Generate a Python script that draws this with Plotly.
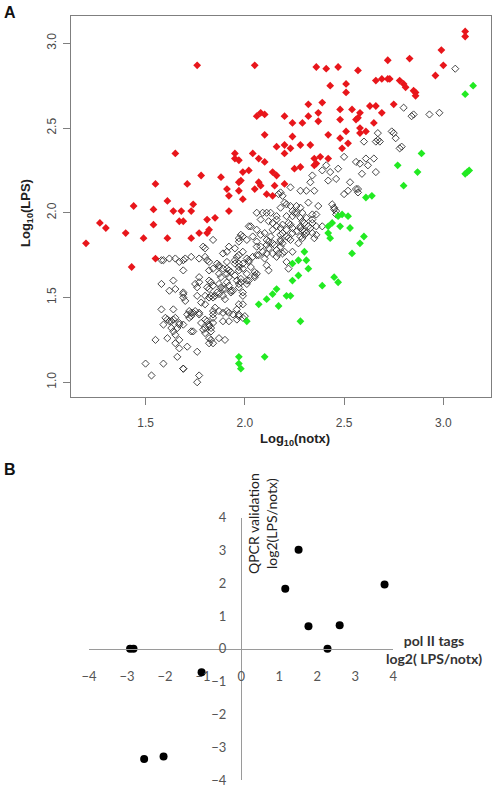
import plotly.graph_objects as go

# ---------------- Panel A data (log10 tag counts) ----------------
notx_up = [1.20, 1.27, 1.30, 1.40, 1.43, 1.44, 1.49, 1.54, 1.54, 1.55, 1.55, 1.61, 1.61, 1.64, 1.65,
           1.68, 1.67, 1.69, 1.71, 1.73, 1.73, 1.74, 1.76, 1.77, 1.78, 1.81, 1.81, 1.82, 1.85, 1.88,
           1.91, 1.92, 1.92, 1.95, 1.95, 1.97, 1.97, 1.97, 1.98, 1.99, 1.99, 2.02, 2.04, 2.05, 2.05,
           2.07, 2.06, 2.07, 2.08, 2.08, 2.10, 2.10, 2.10,
           2.11, 2.14, 2.14, 2.16, 2.15, 2.20, 2.16, 2.20, 2.20, 2.20, 2.23, 2.24, 2.24, 2.25, 2.28,
           2.28, 2.29, 2.32, 2.32, 2.33, 2.35, 2.35, 2.36, 2.38, 2.36, 2.37, 2.37, 2.39, 2.41, 2.42,
           2.42, 2.43, 2.47, 2.48, 2.48, 2.48, 2.49, 2.51, 2.51, 2.51, 2.52, 2.54, 2.56, 2.57, 2.57,
           2.58, 2.58, 2.58, 2.61, 2.63, 2.65, 2.66, 2.66, 2.69, 2.69, 2.72, 2.72, 2.73, 2.75, 2.78,
           2.80, 2.81, 2.83, 2.85, 2.86, 2.86, 2.96, 2.99, 3.00, 3.11, 3.11]
lps_up = [1.82, 1.94, 1.91, 1.88, 1.68, 2.04, 1.85, 2.02, 1.93, 2.17, 1.73, 2.07, 1.85, 2.01, 2.35,
          2.01, 1.95, 1.95, 2.17, 2.01, 1.85, 2.05, 2.87, 1.88, 2.22, 1.96, 1.88, 1.90, 1.97, 2.21,
          2.14, 2.01, 2.10, 2.35, 2.32, 2.18, 2.13, 2.31, 2.19, 2.08, 2.24, 2.25, 2.35, 2.14, 2.87,
          2.18, 2.57, 2.32, 2.59, 2.16, 2.58, 2.46, 2.30,
          2.11, 2.10, 2.24, 2.22, 2.16, 2.17, 2.39, 2.57, 2.40, 2.35, 2.38, 2.53, 2.45, 2.26, 2.27,
          2.40, 2.53, 2.57, 2.64, 2.40, 2.32, 2.28, 2.29, 2.33, 2.86, 2.59, 2.54, 2.65, 2.85, 2.46,
          2.32, 2.75, 2.86, 2.61, 2.55, 2.44, 2.38, 2.71, 2.76, 2.48, 2.41, 2.61, 2.55, 2.56, 2.84,
          2.59, 2.50, 2.47, 2.48, 2.63, 2.53, 2.63, 2.78, 2.79, 2.59, 2.90, 2.79, 2.79, 2.64, 2.78,
          2.76, 2.74, 2.91, 2.72, 2.71, 2.69, 2.81, 2.96, 2.87, 3.07, 3.04]

notx_down = [1.97, 1.97, 1.98, 2.01, 2.07, 2.10, 2.11, 2.14, 2.16, 2.17, 2.21, 2.23, 2.28, 2.24,
             2.24, 2.27, 2.27, 2.30, 2.31, 2.32, 2.39, 2.42, 2.42, 2.43, 2.44, 2.45, 2.47, 2.47,
             2.48, 2.49, 2.52, 2.53, 2.54, 2.58, 2.60, 2.61, 2.64, 2.77, 2.80, 2.87, 2.89, 3.11,
             3.11, 3.12, 3.13, 3.15]
lps_down = [1.15, 1.11, 1.08, 1.36, 1.46, 1.15, 1.49, 1.52, 1.55, 1.45, 1.51, 1.51, 1.36, 1.70,
            1.60, 1.63, 1.72, 1.77, 1.72, 1.67, 1.57, 1.92, 1.88, 1.85, 1.94, 1.62, 1.98, 1.59,
            1.92, 1.99, 1.98, 1.91, 1.76, 1.82, 1.86, 2.09, 2.10, 2.28, 2.16, 2.24, 2.35, 2.70,
            2.23, 2.24, 2.25, 2.75]

notx_ns = [3.06, 2.80, 2.84, 2.85, 2.93, 2.98, 2.74, 2.75, 2.76, 2.67, 2.60, 2.66, 2.67, 2.68, 2.78,
           2.79, 2.50, 2.56, 2.58, 2.61, 2.62, 2.65, 2.59, 2.66, 2.41, 2.47, 2.43, 2.39, 2.34, 2.33,
           2.31, 2.28, 2.35, 2.23, 2.42, 2.46, 2.53, 2.56, 2.57, 2.52, 2.50, 2.57, 2.17, 2.18, 2.32,
           2.37, 2.36, 2.34, 2.44, 2.45, 2.45, 2.46, 2.31, 2.34, 2.28, 2.29, 2.30, 2.36, 2.39, 2.28,
           2.29, 2.30, 2.32, 2.33, 2.34, 2.36, 2.19, 2.20, 2.21, 2.26, 2.24, 2.25, 2.16, 2.13, 2.09,
           2.06, 2.03, 2.08, 2.12, 2.16, 2.34, 2.28, 2.22, 2.23, 2.24, 2.21, 2.18, 2.19, 2.14, 2.16,
           2.02, 1.98, 1.99, 2.04, 2.06, 2.08, 2.10, 2.11, 2.13, 2.14, 2.15, 2.12, 2.11, 2.18, 2.18,
           2.19, 2.21, 2.22, 2.23, 2.27, 2.28, 2.29, 2.26, 2.24, 2.18, 2.19, 2.09, 2.11, 2.06, 2.07,
           2.16, 2.19, 2.24, 2.01, 2.02, 2.02, 2.03, 1.99, 1.97, 1.97, 2.05, 2.06, 2.11, 2.21, 2.22,
           2.12, 2.01, 2.02, 1.98, 1.97, 2.05, 2.05, 1.99, 1.99, 1.97, 1.99, 1.97, 1.99, 2.00, 2.24,
           2.29, 2.31, 2.35,
           1.58, 1.59, 1.62, 1.65, 1.67, 1.69, 1.70, 1.73, 1.77, 1.80, 1.81, 1.82, 1.86, 1.87, 1.87,
           1.84, 1.82, 1.89, 1.91, 1.91, 1.95, 1.95, 1.96, 1.97, 1.99, 1.69, 1.88, 1.92, 1.91, 1.95,
           1.96, 1.97, 1.98, 2.01, 2.01, 1.87, 1.88, 1.89, 1.90, 1.91, 1.92, 1.93, 1.82, 1.83, 1.84,
           1.64, 1.65, 1.58, 1.69, 1.69, 1.69, 1.70, 1.76, 1.77, 1.78, 1.80, 1.82, 1.83, 1.84, 1.85,
           1.86, 1.87, 1.89, 1.90, 1.93, 1.94, 1.96, 1.97, 1.94, 1.58, 1.64, 1.72, 1.73, 1.74, 1.71,
           1.72, 1.75, 1.77, 1.77, 1.69, 1.60, 1.61, 1.62, 1.63, 1.64, 1.59, 1.63, 1.64, 1.65, 1.67,
           1.61, 1.55, 1.67, 1.74, 1.80, 1.81, 1.82, 1.82, 1.84, 1.83, 1.84, 1.84, 1.82, 1.83, 1.84,
           1.87, 1.90, 1.71, 1.76, 1.66, 1.50, 1.59, 1.69, 1.69, 1.53, 1.77, 1.76,
           1.79, 1.80, 1.84, 1.89, 1.91, 1.92, 1.95, 1.99, 2.04, 2.10, 1.87, 1.92, 1.93, 1.97, 1.89,
           1.92, 1.91, 1.92, 1.96, 1.85, 1.87, 1.89, 1.84, 1.80, 1.76, 1.75, 1.77, 1.81, 1.82, 1.62,
           1.73, 1.65, 1.67, 1.66, 1.65, 1.67, 1.73, 1.80, 1.80, 1.82, 1.83, 1.79, 1.78, 2.11, 2.18,
           2.23, 2.26, 2.28, 2.21, 2.14, 2.06, 1.97, 2.01, 1.97, 2.06, 2.08, 2.12, 2.30, 2.14, 2.17,
           2.20, 2.18, 2.16, 2.46]
lps_ns = [2.85, 2.62, 2.57, 2.58, 2.58, 2.59, 2.48, 2.47, 2.44, 2.47, 2.42, 2.42, 2.43, 2.42, 2.38,
          2.39, 2.33, 2.30, 2.29, 2.32, 2.28, 2.32, 2.23, 2.24, 2.28, 2.26, 2.24, 2.25, 2.22, 2.18,
          2.13, 2.13, 2.13, 2.15, 2.19, 2.20, 2.18, 2.14, 2.12, 2.13, 2.11, 2.14, 2.11, 2.12, 2.06,
          2.04, 1.99, 1.99, 2.05, 2.03, 2.02, 2.01, 1.97, 1.96, 1.97, 1.95, 1.94, 1.92, 1.92, 1.91,
          1.90, 1.89, 1.92, 1.91, 1.88, 1.87, 2.10, 2.06, 2.05, 2.04, 2.01, 2.00, 1.98, 2.00, 2.00,
          2.00, 1.92, 1.96, 1.95, 1.96, 1.94, 1.92, 1.94, 1.93, 1.91, 1.90, 1.91, 1.93, 1.94, 1.92,
          1.92, 1.87, 1.86, 1.86, 1.83, 1.87, 1.88, 1.84, 1.86, 1.82, 1.81, 1.79, 1.81, 1.84, 1.83,
          1.82, 1.86, 1.85, 1.84, 1.82, 1.86, 1.85, 1.89, 1.88, 1.87, 1.88, 1.77, 1.76, 1.75, 1.75,
          1.74, 1.76, 1.77, 1.73, 1.72, 1.71, 1.68, 1.67, 1.70, 1.66, 1.65, 1.64, 1.69, 1.71, 1.67,
          1.66, 1.60, 1.60, 1.59, 1.56, 1.63, 1.62, 1.53, 1.51, 1.46, 1.46, 1.39, 1.38, 1.39, 1.98,
          2.00, 1.88, 1.85,
          1.72, 1.72, 1.73, 1.73, 1.71, 1.72, 1.73, 1.74, 1.73, 1.74, 1.72, 1.71, 1.70, 1.69, 1.68,
          1.67, 1.66, 1.67, 1.71, 1.67, 1.70, 1.72, 1.74, 1.75, 1.70, 1.66, 1.62, 1.62, 1.64, 1.63,
          1.60, 1.58, 1.61, 1.64, 1.58, 1.58, 1.56, 1.55, 1.55, 1.59, 1.57, 1.54, 1.60, 1.59, 1.57,
          1.60, 1.55, 1.58, 1.53, 1.52, 1.50, 1.48, 1.56, 1.59, 1.47, 1.51, 1.50, 1.51, 1.50, 1.51,
          1.53, 1.52, 1.51, 1.49, 1.53, 1.54, 1.43, 1.40, 1.40, 1.43, 1.43, 1.42, 1.41, 1.41, 1.40,
          1.38, 1.42, 1.40, 1.41, 1.34, 1.38, 1.37, 1.36, 1.36, 1.37, 1.34, 1.32, 1.30, 1.28, 1.25,
          1.26, 1.25, 1.35, 1.30, 1.37, 1.36, 1.34, 1.33, 1.35, 1.32, 1.40, 1.38, 1.26, 1.25, 1.23,
          1.26, 1.25, 1.21, 1.18, 1.15, 1.11, 1.11, 1.08, 1.08, 1.04, 1.04, 1.00,
          1.80, 1.79, 1.84, 1.76, 1.77, 1.80, 1.79, 1.77, 1.74, 1.73, 1.64, 1.66, 1.65, 1.68, 1.41,
          1.36, 1.42, 1.41, 1.37, 1.44, 1.42, 1.36, 1.42, 1.46, 1.51, 1.58, 1.62, 1.56, 1.55, 1.54,
          1.39, 1.38, 1.34, 1.32, 1.23, 1.20, 1.30, 1.32, 1.29, 1.23, 1.30, 1.31, 1.35, 2.00, 2.03,
          2.04, 2.00, 2.03, 1.98, 1.90, 1.90, 1.85, 1.84, 1.83, 1.80, 1.80, 1.83, 1.87, 1.76, 1.76,
          1.77, 1.80, 1.78, 1.99]

x_ticks_a = [1.5, 2.0, 2.5, 3.0]
x_ticktext_a = ["1.5", "2.0", "2.5", "3.0"]
y_ticks_a = [1.0, 1.5, 2.0, 2.5, 3.0]
y_ticktext_a = ["1.0", "1.5", "2.0", "2.5", "3.0"]

# ---------------- Panel B data (log2 LPS/notx) ----------------
polii_log2 = [-2.92, -2.83, -1.04, -2.55, -2.04, 1.16, 1.51, 1.77, 2.27, 2.59, 3.77]
qpcr_log2 = [0.0, 0.0, -0.71, -3.36, -3.28, 1.83, 3.02, 0.69, 0.0, 0.72, 1.96]
ticks_b = [-4, -3, -2, -1, 0, 1, 2, 3, 4]

W, H = 496, 789
ARIAL = "Liberation Sans, Arial, sans-serif"
CALIBRI = "Lato, Open Sans, sans-serif"

fig = go.Figure()
fig.add_trace(go.Scatter(x=notx_ns, y=lps_ns, mode="markers", xaxis="x", yaxis="y",
                         marker=dict(symbol="diamond-open", size=5.5, color="#262626",
                                     line=dict(width=0.85, color="#262626")),
                         showlegend=False, hoverinfo="x+y"))
fig.add_trace(go.Scatter(x=notx_up, y=lps_up, mode="markers", xaxis="x", yaxis="y",
                         marker=dict(symbol="diamond", size=6, color="#e8161b", line=dict(width=0)),
                         showlegend=False))
fig.add_trace(go.Scatter(x=notx_down, y=lps_down, mode="markers", xaxis="x", yaxis="y",
                         marker=dict(symbol="diamond", size=6, color="#22ea22", line=dict(width=0)),
                         showlegend=False))
fig.add_trace(go.Scatter(x=polii_log2, y=qpcr_log2, mode="markers", xaxis="x2", yaxis="y2",
                         marker=dict(symbol="circle", size=8, color="#000000"),
                         showlegend=False))

axA = dict(showline=True, mirror=True, linecolor="#7f7f7f", linewidth=1.3, automargin=False,
           ticks="outside", ticklen=7, tickwidth=1.2, tickcolor="#7f7f7f",
           showgrid=False, zeroline=False, tickfont=dict(family=ARIAL, size=12, color="#4a4a4a"))
axB = dict(showline=True, linecolor="#9a9a9a", linewidth=1, ticks="", showgrid=False,
           automargin=False, zeroline=False, tickmode="array", tickvals=ticks_b,
           tickfont=dict(family=CALIBRI, size=13, color="#555555"))


def note(text, px, py, size, family, color="#222222", angle=0):
    return dict(text=text, x=px / W, y=1 - py / H, xref="paper", yref="paper",
                xanchor="center", yanchor="middle", showarrow=False, align="center",
                textangle=angle, font=dict(family=family, size=size, color=color))


fig.update_layout(
    width=W, height=H, autosize=False,
    margin=dict(l=0, r=0, t=0, b=0, pad=0, autoexpand=False),
    paper_bgcolor="white", plot_bgcolor="rgba(0,0,0,0)",
    xaxis=dict(domain=[70.7 / W, 491 / W], range=[1.123, 3.24], anchor="y",
               tickmode="array", tickvals=x_ticks_a, ticktext=x_ticktext_a,
               ticklabelstandoff=7, **axA),
    yaxis=dict(domain=[1 - 397 / H, 1 - 16 / H], range=[0.913, 3.161], anchor="x",
               tickmode="array", tickvals=y_ticks_a, ticktext=y_ticktext_a, tickangle=-90,
               ticklabelstandoff=2, **axA),
    xaxis2=dict(domain=[89 / W, 393.3 / W], range=[-4, 4], anchor="free",
                position=1 - 649 / H, ticklabelstandoff=15, **axB),
    yaxis2=dict(domain=[1 - 780 / H, 1 - 517.7 / H], range=[-4, 4], anchor="free",
                position=241 / W, ticklabelstandoff=12, **axB),
    annotations=[
        note("<b>A</b>", 10, 12, 16, ARIAL, "#111111"),
        note("<b>B</b>", 10, 470, 16, ARIAL, "#111111"),
        note("<b>Log<sub>10</sub>(notx)</b>", 295, 440, 13, ARIAL),
        note("<b>Log<sub>10</sub>(LPS)</b>", 27, 213, 13, ARIAL, angle=-90),
        note("<b>pol II tags</b><br><b>log2( LPS/notx)</b>", 434, 649, 14, CALIBRI, "#333333"),
        note("QPCR validation<br>log2(LPS/notx)", 262, 524, 14, CALIBRI, "#222222", angle=-90),
    ],
)

fig.write_html("out.html", config={"displayModeBar": False},
               post_script="document.body.style.margin='0';document.body.style.overflow='hidden';")
